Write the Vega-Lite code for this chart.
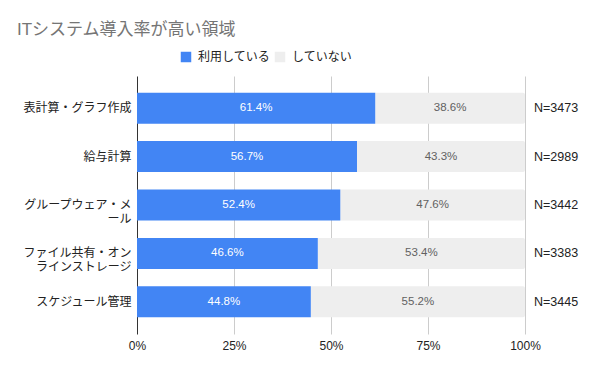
{
  "$schema": "https://vega.github.io/schema/vega-lite/v6.json",
  "width": 388,
  "height": 258,
  "autosize": {"type": "none"},
  "padding": {"left": 137, "top": 76, "right": 75, "bottom": 36},
  "background": "#ffffff",
  "config": {
    "font": "Arial, Liberation Sans, Noto Sans CJK JP, sans-serif",
    "view": {"stroke": null}
  },
  "title": {
    "text": "ITシステム導入率が高い領域",
    "anchor": "start",
    "frame": "group",
    "dx": -120,
    "offset": 12,
    "fontSize": 17,
    "fontWeight": "normal",
    "color": "#757575"
  },
  "datasets": {
    "rates": [
      {"category": "表計算・グラフ作成", "status": "利用している", "rate": 0.614},
      {"category": "表計算・グラフ作成", "status": "していない", "rate": 0.386},
      {"category": "給与計算", "status": "利用している", "rate": 0.567},
      {"category": "給与計算", "status": "していない", "rate": 0.433},
      {"category": "グループウェア・メ|ール", "status": "利用している", "rate": 0.524},
      {"category": "グループウェア・メ|ール", "status": "していない", "rate": 0.476},
      {"category": "ファイル共有・オン|ラインストレージ", "status": "利用している", "rate": 0.466},
      {"category": "ファイル共有・オン|ラインストレージ", "status": "していない", "rate": 0.534},
      {"category": "スケジュール管理", "status": "利用している", "rate": 0.448},
      {"category": "スケジュール管理", "status": "していない", "rate": 0.552}
    ],
    "counts": [
      {"category": "表計算・グラフ作成", "n": "N=3473"},
      {"category": "給与計算", "n": "N=2989"},
      {"category": "グループウェア・メ|ール", "n": "N=3442"},
      {"category": "ファイル共有・オン|ラインストレージ", "n": "N=3383"},
      {"category": "スケジュール管理", "n": "N=3445"}
    ]
  },
  "data": {"name": "rates"},
  "transform": [
    {"calculate": "datum.status === '利用している' ? 0 : 1", "as": "ord"},
    {"stack": "rate", "groupby": ["category"], "sort": [{"field": "ord", "order": "ascending"}], "as": ["r0", "r1"]},
    {"calculate": "(datum.r0 + datum.r1) / 2", "as": "rmid"}
  ],
  "encoding": {
    "y": {
      "field": "category",
      "type": "nominal",
      "sort": ["表計算・グラフ作成", "給与計算", "グループウェア・メ|ール", "ファイル共有・オン|ラインストレージ", "スケジュール管理"],
      "scale": {"paddingInner": 0.36, "paddingOuter": 0.345},
      "axis": {
        "title": null,
        "domain": false,
        "ticks": false,
        "labelExpr": "split(datum.label, '|')",
        "labelFontSize": 12,
        "labelColor": "#222222",
        "labelPadding": 6,
        "labelLineHeight": 14,
        "labelLimit": 200
      }
    }
  },
  "layer": [
    {
      "transform": [{"filter": "datum.status === 'していない'"}],
      "mark": {"type": "bar", "cornerRadiusTopRight": 2, "cornerRadiusBottomRight": 2},
      "encoding": {
        "x": {
          "field": "r0",
          "type": "quantitative",
          "scale": {"domain": [0, 1], "nice": false},
          "axis": {
            "title": null,
            "format": ".0%",
            "values": [0, 0.25, 0.5, 0.75, 1],
            "domain": false,
            "grid": true,
            "gridColor": {"condition": {"test": "datum.value === 0", "value": "#333333"}, "value": "#cccccc"},
            "ticks": true,
            "tickSize": 0,
            "labelFlush": false,
            "labelFontSize": 12,
            "labelColor": "#222222",
            "labelPadding": 6
          }
        },
        "x2": {"field": "r1"},
        "color": {
          "field": "status",
          "type": "nominal",
          "scale": {"domain": ["利用している", "していない"], "range": ["#4285F4", "#EEEEEE"]},
          "legend": {
            "title": null,
            "orient": "none",
            "direction": "horizontal",
            "legendX": 43,
            "legendY": -25,
            "symbolType": "square",
            "symbolSize": 110,
            "symbolStrokeWidth": 0,
            "symbolOpacity": 1,
            "labelFontSize": 12,
            "labelColor": "#222222",
            "columnPadding": 3,
            "labelOffset": 6
          }
        }
      }
    },
    {
      "transform": [{"filter": "datum.status === '利用している'"}],
      "mark": {"type": "bar"},
      "encoding": {
        "x": {"field": "r0", "type": "quantitative"},
        "x2": {"field": "r1"},
        "color": {"field": "status", "type": "nominal"}
      }
    },
    {
      "mark": {"type": "text", "fontSize": 11.5, "baseline": "middle", "align": "center"},
      "encoding": {
        "x": {"field": "rmid", "type": "quantitative"},
        "text": {"field": "rate", "type": "quantitative", "format": ".1%"},
        "color": {
          "condition": {"test": "datum.status === '利用している'", "value": "#ffffff"},
          "value": "#616161"
        }
      }
    },
    {
      "data": {"name": "counts"},
      "transform": [],
      "mark": {"type": "text", "fontSize": 12.5, "align": "left", "baseline": "middle", "dx": 9, "color": "#222222"},
      "encoding": {
        "x": {"datum": 1, "type": "quantitative"},
        "text": {"field": "n", "type": "nominal"}
      }
    }
  ]
}
